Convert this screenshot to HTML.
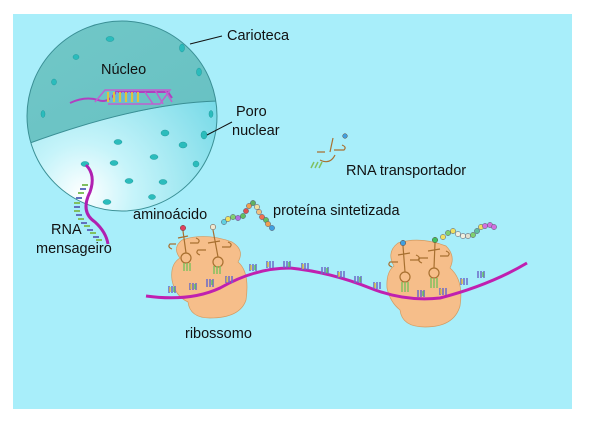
<!DOCTYPE html>
<html><head><meta charset="utf-8"><style>
html,body{margin:0;padding:0;background:#fff;width:600px;height:424px;overflow:hidden}
text{font-family:"Liberation Sans","DejaVu Sans",sans-serif;font-size:14.5px;fill:#111}
</style></head><body>
<svg width="600" height="424" viewBox="0 0 600 424" xmlns="http://www.w3.org/2000/svg">
<defs>
<radialGradient id="lo" cx="0.3" cy="0.85" r="0.8">
<stop offset="0" stop-color="#ffffff"/><stop offset="0.3" stop-color="#c6f4fa"/><stop offset="1" stop-color="#72d8e6"/></radialGradient>
<linearGradient id="hi" x1="0" y1="0" x2="1" y2="1">
<stop offset="0" stop-color="#72c8c8"/><stop offset="1" stop-color="#66c0c2"/></linearGradient>
<clipPath id="sp"><circle cx="122" cy="116" r="95"/></clipPath>
</defs>
<rect x="13" y="14" width="559" height="395" fill="#a8eefa"/>
<!-- nucleus -->
<g clip-path="url(#sp)">
<rect x="20" y="15" width="210" height="210" fill="url(#lo)"/>
<path d="M20 15 H230 V100 Q140 103 30 143 L20 145 Z" fill="url(#hi)"/>
<path d="M30 143 Q140 103 218 101" fill="none" stroke="#3a8f95" stroke-width="1"/>
</g>
<circle cx="122" cy="116" r="95" fill="none" stroke="#3a8f95" stroke-width="1"/>
<g fill="#2bbcbc" stroke="#1f9a9c" stroke-width="0.5">
<ellipse cx="110" cy="39" rx="4" ry="2.5"/><ellipse cx="76" cy="57" rx="3" ry="2.5"/><ellipse cx="54" cy="82" rx="2.5" ry="3"/>
<ellipse cx="182" cy="48" rx="2.5" ry="4"/><ellipse cx="199" cy="72" rx="2.5" ry="4"/><ellipse cx="43" cy="114" rx="2" ry="3.5"/>
<ellipse cx="211" cy="114" rx="2" ry="3.5"/><ellipse cx="204" cy="135" rx="3" ry="4"/><ellipse cx="165" cy="133" rx="4" ry="3"/>
<ellipse cx="118" cy="142" rx="4" ry="2.5"/><ellipse cx="183" cy="145" rx="4" ry="3"/><ellipse cx="154" cy="157" rx="4" ry="2.5"/>
<ellipse cx="114" cy="163" rx="4" ry="2.5"/><ellipse cx="196" cy="164" rx="3" ry="3"/><ellipse cx="85" cy="164" rx="4" ry="2.5"/>
<ellipse cx="129" cy="181" rx="4" ry="2.5"/><ellipse cx="163" cy="182" rx="4" ry="2.5"/><ellipse cx="152" cy="197" rx="3.5" ry="2.5"/>
<ellipse cx="107" cy="202" rx="4" ry="2.5"/>
</g>
<!-- DNA -->
<g stroke-width="1.5" fill="none">
<path d="M70 103 Q85 96 98 100 Q108 104 116 92 L168 92 L172 98" stroke="#b040c0" stroke-width="2"/>
<path d="M95 102 L105 90 L170 90 L160 104 L108 104" stroke="#c060d0"/>
<g stroke="#e0c040" stroke-width="2"><path d="M108 92V102M114 92V102M120 92V102M126 92V102M132 92V102M138 92V102"/></g>
<g stroke="#70b0e0" stroke-width="2"><path d="M111 92V102M117 92V102M123 92V102M129 92V102M135 92V102"/></g>
<path d="M145 92 L153 104 M155 90 L163 104 M165 90 L172 102" stroke="#c060d0"/>
</g>
<!-- mRNA from nucleus -->
<path d="M86 165 Q96 175 90 192 Q80 212 95 222 Q106 232 108 244" fill="none" stroke="#b020b0" stroke-width="3"/>
<g stroke-width="2"><path d="M82 185h6M78 193h6M74 203h6M74 211h6M78 219h6M84 226h6M90 233h6M96 240h6" stroke="#80c060"/>
<path d="M80 189h6M76 198h6M74 207h6M76 215h6M81 223h6M87 230h6M93 237h6" stroke="#6070c0"/></g>
<!-- ribosomes -->
<path d="M182 240 Q205 232 232 242 Q245 250 238 262 Q250 272 246 300 Q240 318 210 318 Q190 318 188 302 Q175 296 172 280 Q170 264 180 258 Q172 248 182 240 Z" fill="#f6be8a" stroke="#d39a60" stroke-width="0.7"/>
<path d="M398 243 Q420 236 446 246 Q456 256 450 268 Q464 280 460 306 Q454 327 425 327 Q402 327 400 310 Q390 302 387 288 Q386 272 394 266 Q386 252 398 243 Z" fill="#f6be8a" stroke="#d39a60" stroke-width="0.7"/>
<!-- mRNA strand -->
<path d="M146 296 Q190 302 220 288 Q255 268 290 268 Q330 272 370 288 Q405 302 440 298 Q490 285 527 263" fill="none" stroke="#c020b0" stroke-width="3"/>
<g stroke-width="1.5" fill="none">
<path d="M169 286v7M172 286v7M175 286v7M190 283v7M193 283v7M196 283v7M207 279v8M210 279v8M213 279v8M226 276v7M229 276v7M232 276v7M250 264v7M253 264v7M256 264v7M267 261v7M270 261v7M273 261v7M284 261v7M287 261v7M290 261v7M302 263v7M305 263v7M308 263v7M322 267v7M325 267v7M328 267v7M338 271v7M341 271v7M344 271v7M355 276v7M358 276v7M361 276v7M374 282v7M377 282v7M380 282v7M418 290v7M421 290v7M424 290v7M440 288v7M443 288v7M446 288v7M461 278v7M464 278v7M467 278v7M478 271v7M481 271v7M484 271v7" stroke="#6a6ac8"/>
<path d="M170 287v5M191 284v5M227 277v5M251 265v5M268 262v5M303 264v5M339 272v5M375 283v5M441 289v5M462 279v5" stroke="#e0c040"/>
<path d="M174 287v5M195 284v5M212 280v5M255 265v5M289 262v5M327 268v5M360 277v5M423 291v5M483 272v5" stroke="#60c060"/>
</g>
<!-- tRNAs -->
<g fill="none" stroke="#a87030" stroke-width="1.2">
<path d="M183 231 L186 253 M176 244 h-6 q-3 3 2 5 M190 243 h8 q3 -3 -2 -5 M178 238 l10 -2"/><circle cx="186" cy="258" r="5"/>
<path d="M213 230 L218 257 M206 250 h-8 q-3 3 2 5 M222 247 h8 q3 -3 -2 -5 M208 243 l12 -2"/><circle cx="218" cy="262" r="5"/>
<path d="M403 246 L405 272 M398 262 h-8 q-3 3 2 5 M410 260 h8 q3 -3 -2 -5 M398 255 l12 -2"/><circle cx="405" cy="277" r="5"/>
<path d="M435 243 L434 268 M428 258 h-8 q-3 3 2 5 M440 256 h8 q3 -3 -2 -5 M428 251 l12 -2"/><circle cx="434" cy="273" r="5"/>
<path d="M333 138 L330 152 M325 152 h-8 M334 150 h10 q3 -3 -2 -5 M320 160 Q330 165 335 155"/>
</g>
<g stroke-width="1.5"><path d="M184 263v8M187 263v8M190 263v8M214 266v8M217 266v8M220 266v8M402 282v10M405 282v10M408 282v10M431 278v10M434 278v10M437 278v10M314 162l-3 6M318 162l-3 6M322 162l-3 6" stroke="#80c060"/></g>
<circle cx="183" cy="228" r="2.7" fill="#e04060" stroke="#604030" stroke-width="0.5"/>
<circle cx="213" cy="227" r="2.7" fill="#f0e8d0" stroke="#604030" stroke-width="0.5"/>
<circle cx="403" cy="243" r="2.7" fill="#40a0e0" stroke="#604030" stroke-width="0.5"/>
<circle cx="435" cy="240" r="2.7" fill="#40c060" stroke="#604030" stroke-width="0.5"/>
<circle cx="345" cy="136" r="2.3" fill="#40a0e0" stroke="#604030" stroke-width="0.5"/>
<!-- protein chains -->
<g stroke="#556" stroke-width="0.5">
<circle cx="224" cy="222" r="2.6" fill="#60d0e0"/><circle cx="228" cy="219" r="2.6" fill="#f0e060"/><circle cx="233" cy="217" r="2.6" fill="#80d070"/><circle cx="238" cy="218" r="2.6" fill="#b070e0"/><circle cx="243" cy="216" r="2.6" fill="#60c060"/><circle cx="246" cy="211" r="2.6" fill="#e05050"/><circle cx="249" cy="206" r="2.6" fill="#f0a050"/><circle cx="253" cy="203" r="2.6" fill="#60b060"/><circle cx="257" cy="207" r="2.6" fill="#f0e0a0"/><circle cx="259" cy="212" r="2.6" fill="#f0c080"/><circle cx="262" cy="217" r="2.6" fill="#f07050"/><circle cx="266" cy="220" r="2.6" fill="#60c060"/><circle cx="268" cy="224" r="2.6" fill="#f0a050"/><circle cx="272" cy="228" r="2.6" fill="#40a0e0"/>
<circle cx="443" cy="237" r="2.6" fill="#f0e060"/><circle cx="448" cy="233" r="2.6" fill="#80d070"/><circle cx="453" cy="231" r="2.6" fill="#f0e060"/><circle cx="458" cy="234" r="2.6" fill="#f0f0e0"/><circle cx="463" cy="236" r="2.6" fill="#f0f0e0"/><circle cx="468" cy="236" r="2.6" fill="#e0e0d0"/><circle cx="473" cy="235" r="2.6" fill="#80d070"/><circle cx="477" cy="231" r="2.6" fill="#60c0a0"/><circle cx="481" cy="227" r="2.6" fill="#f0e060"/><circle cx="485" cy="226" r="2.6" fill="#d070e0"/><circle cx="490" cy="225" r="2.6" fill="#d070e0"/><circle cx="494" cy="227" r="2.6" fill="#d070e0"/>
</g>
<!-- leader lines -->
<path d="M190 44 L222 36" stroke="#111" stroke-width="1"/>
<path d="M207 135 L232 122" stroke="#111" stroke-width="1"/>
<!-- labels -->
<text x="227" y="40">Carioteca</text>
<text x="101" y="74">Núcleo</text>
<text x="236" y="116">Poro</text>
<text x="232" y="135">nuclear</text>
<text x="346" y="175">RNA transportador</text>
<text x="133" y="219">aminoácido</text>
<text x="273" y="215">proteína sintetizada</text>
<text x="51" y="234">RNA</text>
<text x="36" y="253">mensageiro</text>
<text x="185" y="338">ribossomo</text>
</svg>
</body></html>
